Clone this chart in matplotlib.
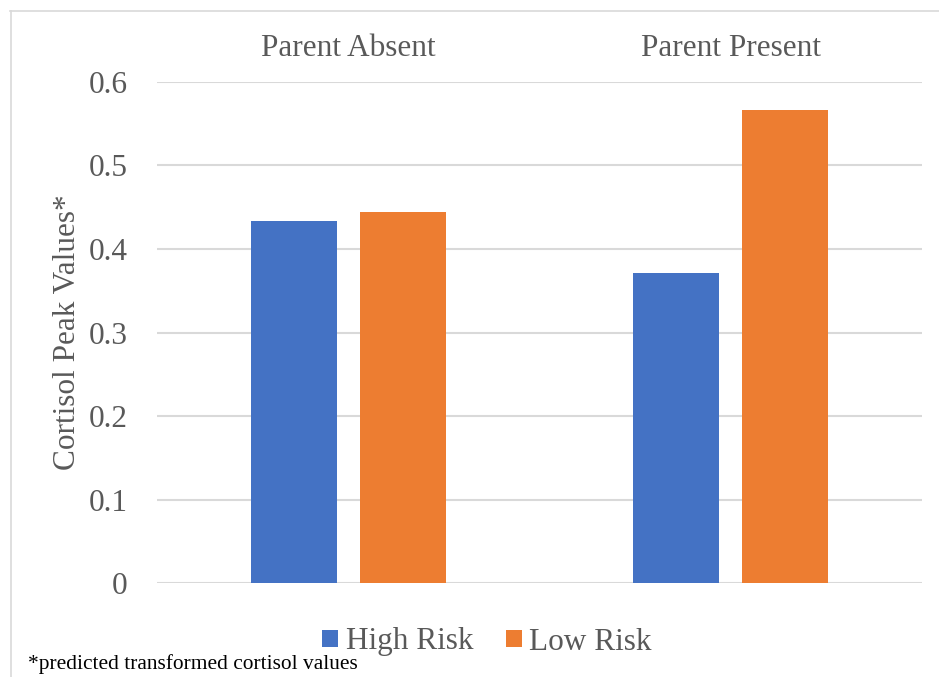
import matplotlib
matplotlib.use("Agg")
import matplotlib.pyplot as plt
from matplotlib.lines import Line2D
from matplotlib.patches import Patch
import numpy as np

# Data
categories = ["Parent Absent", "Parent Present"]
series_names = ["High Risk", "Low Risk"]
high_risk = [0.434, 0.371]
low_risk = [0.444, 0.566]
y_ticks = [0, 0.1, 0.2, 0.3, 0.4, 0.5, 0.6]
y_tick_labels = ["0", "0.1", "0.2", "0.3", "0.4", "0.5", "0.6"]

BLUE = "#4472C4"
ORANGE = "#ED7D31"
TEXT = "#595959"
GRID = "#D9D9D9"

plt.rcParams["font.family"] = ["Liberation Serif", "DejaVu Serif"]

fig = plt.figure(figsize=(9.39, 6.77), dpi=100)
ax = fig.add_axes([0.1672, 0.1388, 0.8147, 0.7401])

x = np.arange(len(categories))
width = 0.225
offset = 0.143
ax.bar(x - offset, high_risk, width, color=BLUE, linewidth=0, zorder=3)
ax.bar(x + offset, low_risk, width, color=ORANGE, linewidth=0, zorder=3)

ax.set_xlim(-0.5, len(categories) - 0.5)
ax.set_ylim(0, 0.6)
ax.set_yticks(y_ticks)
ax.set_yticklabels(y_tick_labels)
ax.yaxis.grid(True, color=GRID, linewidth=1.5, zorder=0)
ax.set_axisbelow(True)

# Category labels along the top
ax.xaxis.tick_top()
ax.set_xticks(x)
ax.set_xticklabels(categories)
ax.tick_params(axis="x", length=0, pad=14, labelsize=22.5, colors=TEXT)
ax.tick_params(axis="y", length=0, pad=21, labelsize=22.5, colors=TEXT)

for side in ["top", "right", "left", "bottom"]:
    ax.spines[side].set_visible(False)

ax.set_ylabel("Cortisol Peak Values*", fontsize=22.5, color=TEXT, labelpad=5)

# Legend below the plot
handles = [Patch(facecolor=BLUE, edgecolor="none"),
           Patch(facecolor=ORANGE, edgecolor="none")]
fig.legend(handles, series_names, loc="center",
           bbox_to_anchor=(487 / 939, 1 - 642 / 677), ncol=2, frameon=False,
           fontsize=22.5, labelcolor=TEXT, handlelength=0.5, handleheight=0.5,
           handletextpad=0.25, columnspacing=1.05)

fig.text(28 / 939, 1 - 664 / 677, "*predicted transformed cortisol values",
         fontsize=15.4, color="black", ha="left", va="center")

# Chart-area frame (top and left edges)
fig.add_artist(Line2D([10 / 939, 1.0], [1 - 10.5 / 677, 1 - 10.5 / 677],
                      transform=fig.transFigure, color=GRID, linewidth=1.2))
fig.add_artist(Line2D([10.5 / 939, 10.5 / 939], [0.0, 1 - 10.5 / 677],
                      transform=fig.transFigure, color=GRID, linewidth=1.2))

fig.savefig("out.png", dpi=100, facecolor="white")
